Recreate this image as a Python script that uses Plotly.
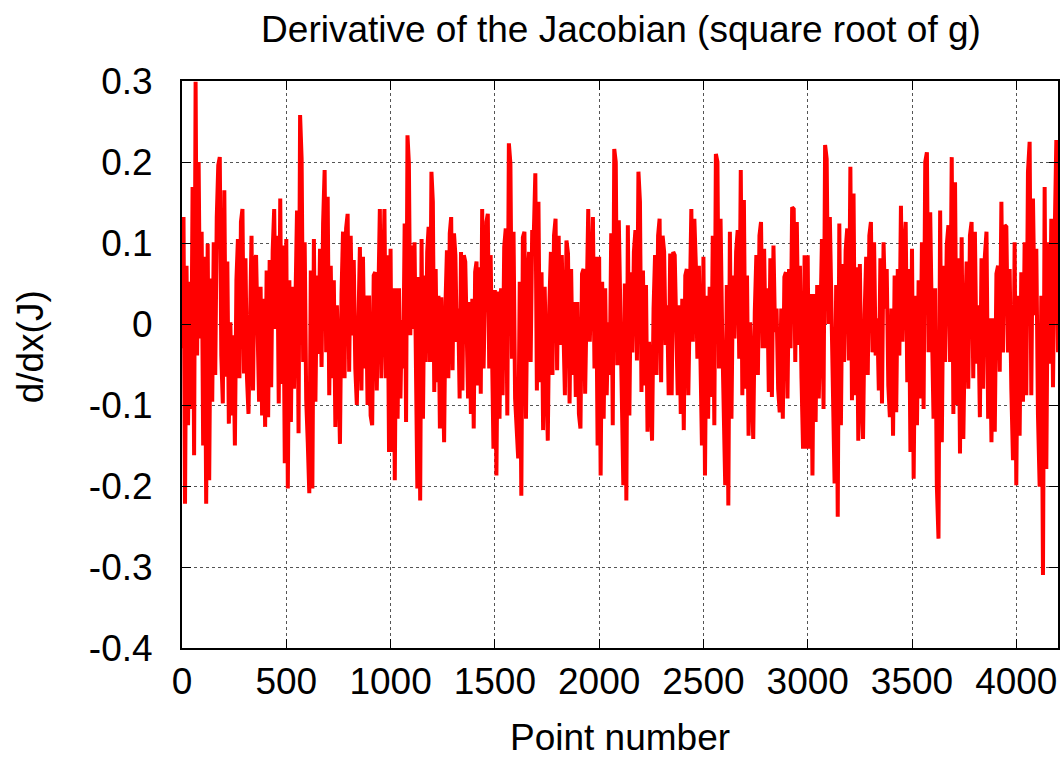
import numpy as np
import plotly.graph_objects as go

# d/dx(J) sampled along the point index, in units of 1e-3, one list per 500-point block
blk_0000 = [-30, 132, -222, 72, -125, 52, -105, 169, -162, 299, -39, 200, -18, 114, -150, 83,
            -222, 99, -193, 56, -96, 101, -63, 132, 196, 206, -39, -98, 165, -65, 77, -123,
            2, -113, -14, -150, 54, 105, -67, 126, 142, -61, 81, -67, -111, 15, 109, -82,
            77, 85, -39, -96, 46, -113, 31, -127, 66, -115, 79, -78, 91, 142, -6, 109,
            -98, 155, -74, 97, -172]
blk_0500 = [105, -203, 54, -121, 46, -80, 5, 140, -135, 258, 204, -47, 101, -94, -146, -209,
            66, -203, 105, -96, 60, -37, 93, -53, 124, 190, -35, 157, -88, 72, -67, 54,
            -127, 23, -51, -148, 37, 114, -67, 118, 136, -59, 109, -14, 79, -55, -100, 19,
            95, -82, 83, -55, 35, -100, 35, -113, -125, 60, 64, -82, 72, 142, -67, 85,
            142, -67, 85, -158]
blk_1000 = [93, -158, 44, -193, 44, -117, 44, -92, 5, -55, 124, -121, 233, 198, -14, 97,
            -6, 101, -133, -203, 58, -218, 105, -117, 60, -47, 89, 120, -47, 188, 151, -84,
            68, -72, 35, -129, 33, -88, -146, 27, 91, -67, 112, 132, -57, 112, 85, -22,
            19, -92, 89, -82, 85, 77, -14, -92, 27, -111, 31, -129, 64, 77, -76, 70,
            -86, 142, -55, 27, 126, 136, -55, 85, -67, -154]
blk_1500 = [42, -187, 40, -117, 44, -88, 95, 118, -113, 223, 198, -43, 114, -92, -129, -166,
            52, -212, 107, 114, -117, 60, 89, -47, 116, 109, 186, -82, 151, -72, 64, -131,
            46, -76, -144, 23, 89, -63, 109, 130, -57, 109, -26, 85, -30, -88, 103, 87,
            -98, 68, -63, 27, -90, 27, -111, -129, 62, 68, -86, 70, 142, -22, 83, 132,
            -55, 83, -150]
blk_2000 = [83, -187, 52, -117, 44, -88, 2, -63, 112, -125, 216, 200, -51, 128, -10, -92,
            -199, 50, -218, 122, -113, 64, -35, 89, 116, -45, 188, 151, -84, 66, -76, 48,
            -133, -22, -72, -144, 19, 85, -63, 109, 130, -72, 109, 89, -26, 23, -88, 87,
            -88, 89, 85, -14, -88, 23, -111, 31, -131, 60, 68, -88, 68, 142, -22, 130,
            72, -43, 72, -63, -150]
blk_2500 = [83, -187, 35, -117, 46, -90, 109, -125, 210, 200, -55, 130, -6, -125, -199, 48,
            -224, 114, -117, 60, -18, 89, 116, -43, 190, -88, 153, -80, 60, -138, 2, -72,
            -142, 15, 85, -63, 109, 126, -30, 93, -30, 44, -84, 81, -90, 97, -10, 19,
            -80, -109, 19, -117, 58, 64, -92, 68, -30, 144, 142, -47, 126, -26, 72, -67,
            -154, 85, -154]
blk_3000 = [85, -154, 37, -187, 37, -121, 48, -92, -2, 105, -105, 221, 204, 0, 132, 2,
            -123, -197, 48, -238, 124, -125, 74, -47, 91, 118, -45, 194, -94, 161, -88, 70,
            -144, 74, -88, -142, 11, 83, -63, 109, 126, -35, 101, -39, 7, -82, 81, -98,
            101, 19, 68, -76, -115, 19, -138, 60, -109, 68, -39, 146, -22, 93, 126, -72,
            68, -158]
blk_3500 = [93, -191, 35, -125, 54, -92, 101, -105, 200, 212, -35, 138, 0, -117, 44, -199,
            -265, 140, -146, 72, -47, 97, 122, -47, 206, -111, 175, -100, 81, -160, 107, -142,
            -2, 77, -80, 109, 126, -67, 114, -49, 23, -115, 81, -80, 83, 114, -117, 7,
            -146, 7, -133, 62, 72, -59, 151, -35, 122, 120, -35, 68, -80, -168, 101]
blk_4000 = [-199, 35, -138, 64, -96, 101, -88, 188, 225, -88, 155, 11, 93, -113, -201, 35,
            -310, 169, -179, 101, -49, 130, -78, 107, 227, -35]

blocks = [
    (0, 500, blk_0000), (500, 1000, blk_0500), (1000, 1500, blk_1000),
    (1500, 2000, blk_1500), (2000, 2500, blk_2000), (2500, 3000, blk_2500),
    (3000, 3500, blk_3000), (3500, 4000, blk_3500), (4000, 4200, blk_4000),
]

xs, ys = [], []
for i, (a, b, vals) in enumerate(blocks):
    last = i == len(blocks) - 1
    xs.append(np.linspace(a, b, len(vals), endpoint=last))
    ys.append(np.array(vals, dtype=float) / 1000.0)
x = np.concatenate(xs)
y = np.concatenate(ys)

x_ticks = [0, 500, 1000, 1500, 2000, 2500, 3000, 3500, 4000]
y_ticks = [0.3, 0.2, 0.1, 0, -0.1, -0.2, -0.3, -0.4]
y_tick_text = ["0.3", "0.2", "0.1", "0", "-0.1", "-0.2", "-0.3", "-0.4"]

font_family = "Liberation Sans, Arial, sans-serif"
font_size = 37

fig = go.Figure()
fig.add_trace(go.Scatter(
    x=x, y=y, mode="lines",
    line=dict(color="#ff0000", width=4),
    showlegend=False, hoverinfo="skip",
))

axis_common = dict(
    showline=True, linecolor="black", linewidth=2, mirror="allticks",
    ticks="inside", ticklen=9, tickwidth=1, tickcolor="black",
    showgrid=True, gridcolor="#555555", gridwidth=1, griddash="dot",
    zeroline=False,
    tickfont=dict(family=font_family, size=font_size, color="black"),
)

fig.update_layout(
    width=1064, height=760,
    margin=dict(l=182, r=4, t=81, b=112, pad=0),
    paper_bgcolor="white", plot_bgcolor="white",
    font=dict(family=font_family, color="black"),
    title=dict(
        text="Derivative of the Jacobian (square root of g)",
        font=dict(family=font_family, size=font_size, color="black"),
        x=621 / 1064, xanchor="center", xref="container",
        y=1 - 29 / 760, yanchor="middle", yref="container",
    ),
    xaxis=dict(range=[0, 4200], tickvals=x_ticks, ticklabelstandoff=0, **axis_common),
    yaxis=dict(range=[-0.4, 0.3], tickvals=y_ticks, ticktext=y_tick_text,
               ticklabelstandoff=20, **axis_common),
    annotations=[
        dict(text="Point number", xref="paper", yref="paper", x=0.5, y=-90 / 567,
             xanchor="center", yanchor="middle", showarrow=False,
             font=dict(family=font_family, size=font_size, color="black")),
        dict(text="d/dx(J)", xref="paper", yref="paper", x=-152 / 878, y=(648 - 347) / 567,
             xanchor="center", yanchor="middle", textangle=-90, showarrow=False,
             font=dict(family=font_family, size=font_size, color="black")),
    ],
)

fig.write_html("out.html")
